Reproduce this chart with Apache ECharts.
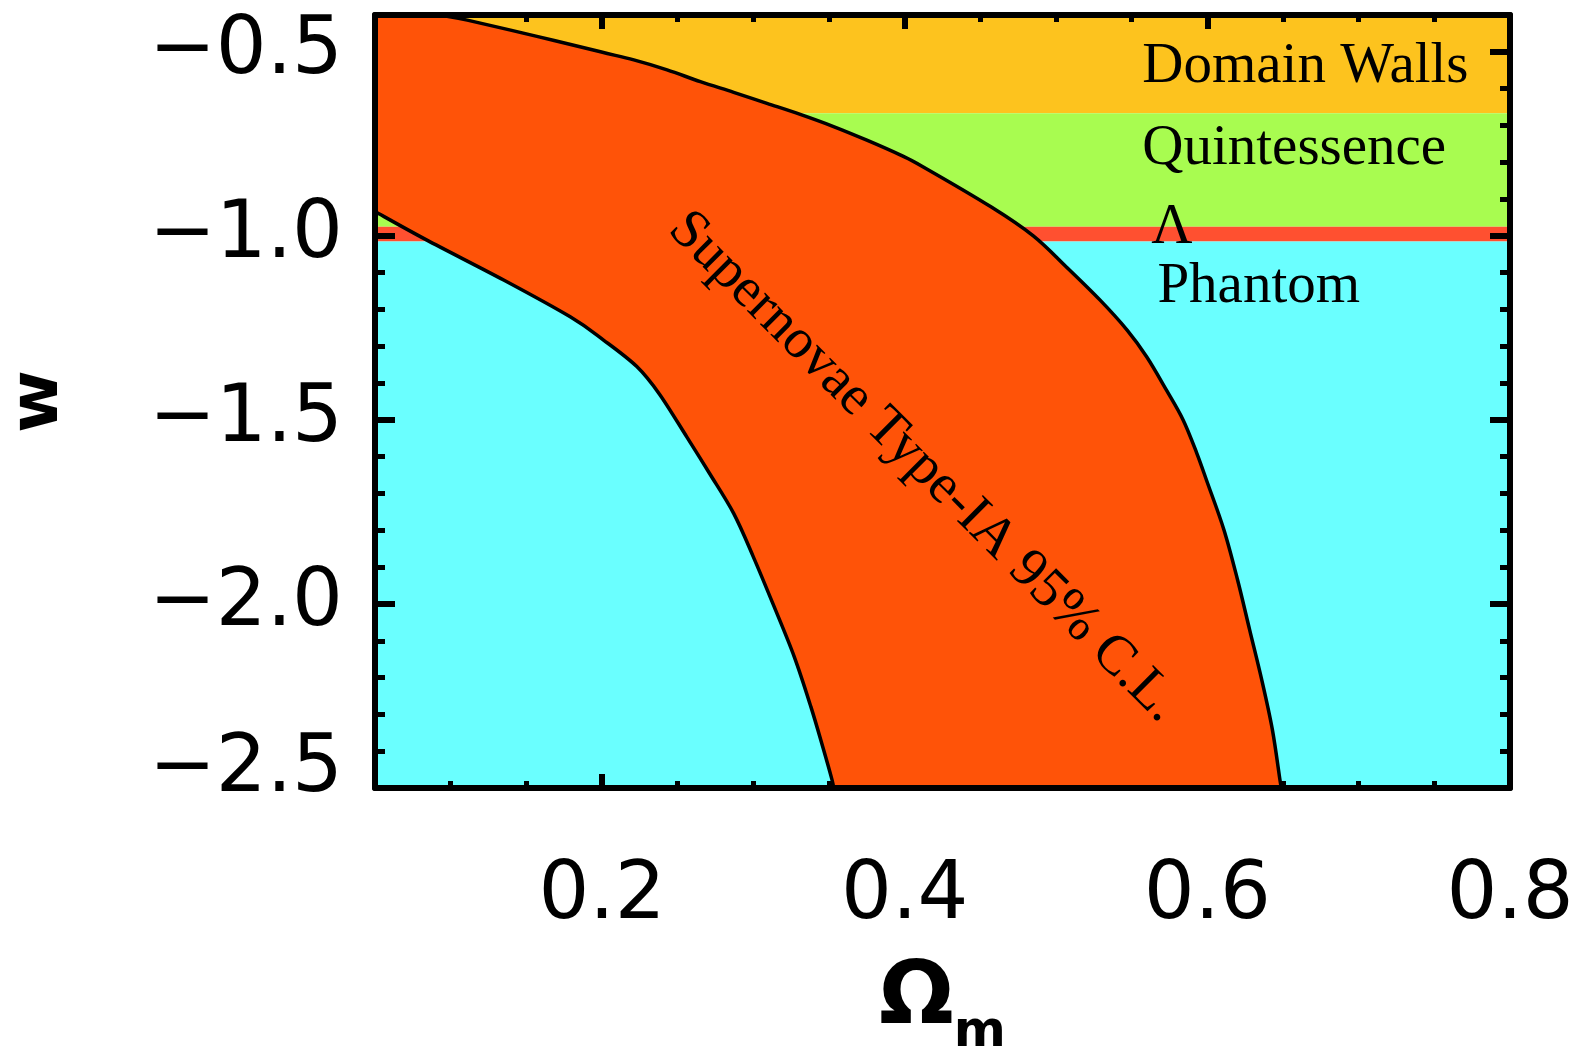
<!DOCTYPE html>
<html>
<head>
<meta charset="utf-8">
<script src="https://cdn.jsdelivr.net/npm/echarts@6/dist/echarts.min.js"></script>
<style>html,body{margin:0;padding:0;background:#ffffff}#c{width:1582px;height:1048px}</style>
</head>
<body>
<div id="c"></div>
<script>
// ---------------- data ----------------
const xMin = 0.05, xMax = 0.8, yMin = -2.5, yMax = -0.4;
const xMajorTicks = [0.2, 0.4, 0.6, 0.8];
const yMajorTicks = [-2.5, -2.0, -1.5, -1.0, -0.5];

const bandNames = ['Domain Walls', 'Quintessence', 'Λ', 'Phantom'];
const bandLower = [-0.6667, -0.975, -1.015, -2.5];
const bandUpper = [-0.4, -0.6667, -0.975, -1.015];

// SN Ia 95% C.L. contour: upper/right boundary (top -> bottom)
const upperX = [0.093, 0.111, 0.157, 0.199, 0.221, 0.243, 0.265, 0.287, 0.309, 0.331, 0.353, 0.375, 0.397, 0.412, 0.457, 0.485, 0.507, 0.529, 0.547, 0.560, 0.573, 0.584, 0.593, 0.600, 0.611, 0.620, 0.628, 0.636, 0.643, 0.648, 0.649];
const upperW = [-0.400, -0.414, -0.458, -0.500, -0.522, -0.549, -0.581, -0.610, -0.640, -0.670, -0.703, -0.740, -0.780, -0.812, -0.921, -1.000, -1.085, -1.174, -1.256, -1.329, -1.419, -1.500, -1.590, -1.670, -1.799, -1.935, -2.071, -2.207, -2.342, -2.478, -2.500];
// lower/left boundary (top -> bottom)
const lowerX = [0.050, 0.084, 0.135, 0.179, 0.201, 0.223, 0.238, 0.256, 0.271, 0.287, 0.300, 0.313, 0.327, 0.338, 0.346, 0.352, 0.353];
const lowerW = [-0.934, -1.011, -1.120, -1.220, -1.283, -1.355, -1.430, -1.546, -1.645, -1.754, -1.872, -2.000, -2.143, -2.279, -2.390, -2.478, -2.500];

const snLabel = 'Supernovae Type-IA 95% C.L.';

// ---------------- layout / style ----------------
const bandColors = ['#FDC31E', '#A8FC50', '#FF5030', '#6AFFFF'];
const snColor = '#FF5308';
const SANS = 'DejaVu Sans';
const SERIF = 'Liberation Serif';
const bandLabelPos = [[0.557, -0.541], [0.557, -0.764], [0.563, -0.978], [0.567, -1.139]];
const snLabelPos = [0.4126, -1.628];
const snLabelRotation = -0.785;

const minus = v => (v < 0 ? '\u2212' : '') + Math.abs(v).toFixed(1);

const upperPts = upperX.map((x, i) => [x, upperW[i]]);
const lowerPtsRev = lowerX.map((x, i) => [x, lowerW[i]]).reverse();

// Catmull-Rom spline through pixel points -> SVG path segment (without the initial M)
function splineSeg(p) {
  let d = '';
  for (let i = 0; i < p.length - 1; i++) {
    const p0 = p[i - 1] || p[i], p1 = p[i], p2 = p[i + 1], p3 = p[i + 2] || p[i + 1];
    const c1 = [p1[0] + (p2[0] - p0[0]) / 6, p1[1] + (p2[1] - p0[1]) / 6];
    const c2 = [p2[0] - (p3[0] - p1[0]) / 6, p2[1] - (p3[1] - p1[1]) / 6];
    d += ' C' + c1[0].toFixed(2) + ',' + c1[1].toFixed(2) + ' ' + c2[0].toFixed(2) + ',' + c2[1].toFixed(2) + ' ' + p2[0].toFixed(2) + ',' + p2[1].toFixed(2);
  }
  return d;
}

const chart = echarts.init(document.getElementById('c'), null, {renderer: 'canvas'});

const tickLine = w => ({color: '#000', width: w});
function frameAxis(type, pos) {
  return {type: 'value', position: pos, min: type === 'x' ? xMin : yMin, max: type === 'x' ? xMax : yMax,
    z: 10, axisLine: {show: true, onZero: false, lineStyle: {color: '#000', width: 6}},
    axisTick: {show: false}, axisLabel: {show: false}, splitLine: {show: false}};
}
function minorAxis(type, pos, interval, len) {
  return {type: 'value', position: pos, min: type === 'x' ? xMin : yMin, max: type === 'x' ? xMax : yMax,
    interval: interval, z: 3, axisLine: {show: false, onZero: false},
    axisTick: {show: true, inside: true, length: len, lineStyle: tickLine(5)},
    axisLabel: {show: false}, splitLine: {show: false}};
}

const option = {
  backgroundColor: '#ffffff',
  animation: false,
  grid: {left: 375, right: 72, top: 15, bottom: 260, containLabel: false, outerBoundsMode: 'none'},
  xAxis: [
    {type: 'value', position: 'bottom', min: xMin, max: xMax, z: 3,
      axisLine: {show: false, onZero: false}, splitLine: {show: false},
      axisTick: {show: true, inside: true, length: 14, customValues: xMajorTicks, lineStyle: tickLine(6)},
      axisLabel: {customValues: xMajorTicks, margin: 69, color: '#000', fontFamily: SANS, fontSize: 80,
        formatter: v => v.toFixed(1)},
      name: '{o|Ω}{m|m}', nameLocation: 'middle', nameGap: 167,
      nameTextStyle: {rich: {
        o: {fontFamily: SANS, fontWeight: 'bold', fontSize: 88, lineHeight: 88, color: '#000'},
        m: {fontFamily: SANS, fontWeight: 'bold', fontSize: 50, lineHeight: 50, padding: [66, 0, 0, 0], color: '#000'}
      }}},
    minorAxis('x', 'bottom', 0.05, 7),
    {type: 'value', position: 'top', min: xMin, max: xMax, z: 3,
      axisLine: {show: false, onZero: false}, splitLine: {show: false},
      axisTick: {show: true, inside: true, length: 14, customValues: xMajorTicks, lineStyle: tickLine(6)},
      axisLabel: {show: false}},
    minorAxis('x', 'top', 0.05, 7),
    frameAxis('x', 'bottom'),
    frameAxis('x', 'top')
  ],
  yAxis: [
    {type: 'value', position: 'left', min: yMin, max: yMax, z: 3,
      axisLine: {show: false, onZero: false}, splitLine: {show: false},
      axisTick: {show: true, inside: true, length: 20, customValues: yMajorTicks, lineStyle: tickLine(6)},
      axisLabel: {customValues: yMajorTicks, margin: 32, color: '#000', fontFamily: SANS, fontSize: 80,
        formatter: v => (Math.abs(v - yMin) < 1e-9 ? '{low|' + minus(v) + '}' : minus(v)),
        rich: {low: {fontFamily: SANS, fontSize: 80, color: '#000', padding: [0, 0, 36, 0]}}},
      name: 'w', nameLocation: 'middle', nameGap: 302, nameRotate: 90,
      nameTextStyle: {fontFamily: SANS, fontWeight: 'bold', fontSize: 68, color: '#000'}},
    minorAxis('y', 'left', 0.1, 10),
    {type: 'value', position: 'right', min: yMin, max: yMax, z: 3,
      axisLine: {show: false, onZero: false}, splitLine: {show: false},
      axisTick: {show: true, inside: true, length: 20, customValues: yMajorTicks, lineStyle: tickLine(6)},
      axisLabel: {show: false}},
    minorAxis('y', 'right', 0.1, 10),
    frameAxis('y', 'left'),
    frameAxis('y', 'right')
  ],
  series: [
    {type: 'custom', name: 'bands', coordinateSystem: 'cartesian2d', xAxisIndex: 0, yAxisIndex: 0, z: 1, silent: true,
      data: bandNames.map((n, i) => [xMin, bandLower[i], xMax, bandUpper[i]]),
      encode: {x: [0, 2], y: [1, 3]},
      renderItem: (params, api) => {
        const p0 = api.coord([api.value(0), api.value(3)]);
        const p1 = api.coord([api.value(2), api.value(1)]);
        return {type: 'rect', shape: {x: p0[0], y: p0[1], width: p1[0] - p0[0], height: p1[1] - p0[1]},
          style: {fill: bandColors[params.dataIndex]}};
      }},
    {type: 'custom', name: 'SN contour', coordinateSystem: 'cartesian2d', xAxisIndex: 0, yAxisIndex: 0, z: 5, silent: true,
      data: [[xMin, yMax]],
      renderItem: (params, api) => {
        const corner = api.coord([xMin, yMax]);
        const up = upperPts.map(p => api.coord(p));
        const lo = lowerPtsRev.map(p => api.coord(p));
        let d = 'M' + corner[0] + ',' + corner[1];
        d += ' L' + up[0][0] + ',' + up[0][1] + splineSeg(up);
        d += ' L' + lo[0][0] + ',' + lo[0][1] + splineSeg(lo) + ' Z';
        return {type: 'path', shape: {pathData: d},
          style: {fill: snColor, stroke: '#000', lineWidth: 3.5, lineJoin: 'round'}};
      }},
    {type: 'custom', name: 'band labels', coordinateSystem: 'cartesian2d', xAxisIndex: 0, yAxisIndex: 0, z: 6, silent: true,
      data: bandLabelPos,
      renderItem: (params, api) => {
        const p = api.coord([api.value(0), api.value(1)]);
        return {type: 'text', x: p[0], y: p[1],
          style: {text: bandNames[params.dataIndex], fontFamily: SERIF, fontSize: 57, fill: '#000',
            align: 'left', verticalAlign: 'middle'}};
      }},
    {type: 'custom', name: 'SN label', coordinateSystem: 'cartesian2d', xAxisIndex: 0, yAxisIndex: 0, z: 6, silent: true,
      data: [snLabelPos],
      renderItem: (params, api) => {
        const p = api.coord([api.value(0), api.value(1)]);
        return {type: 'text', x: p[0], y: p[1], rotation: snLabelRotation,
          style: {text: snLabel, fontFamily: SERIF, fontSize: 56, fill: '#000', align: 'center', verticalAlign: 'middle'}};
      }}
  ]
};
chart.setOption(option);
</script>
</body>
</html>
